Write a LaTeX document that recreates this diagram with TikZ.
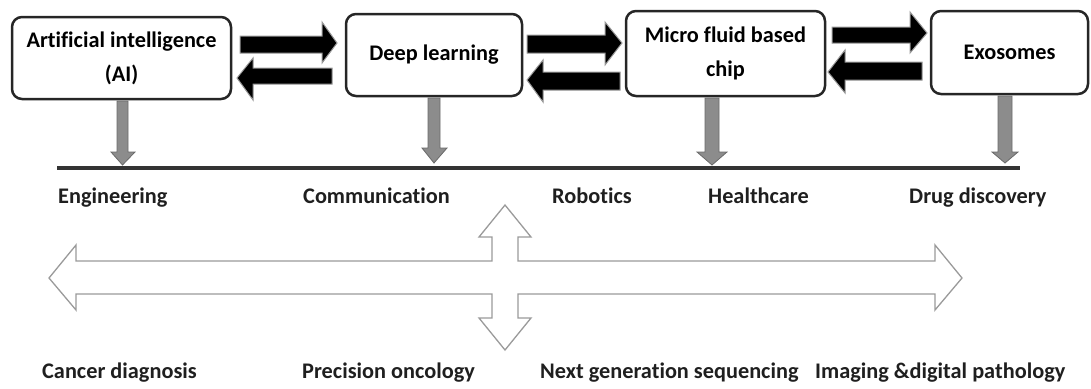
\documentclass[tikz,border=0pt]{standalone}
\usepackage{fontspec}
\setmainfont{Carlito}[Ligatures=NoCommon]
\usetikzlibrary{calc}
\definecolor{boxline}{HTML}{262626}
\definecolor{darrow}{HTML}{8C8C8C}
\definecolor{darrowline}{HTML}{6A6A6A}
\definecolor{outl}{HTML}{9A9A9A}
\tikzset{
  x=1pt, y=-1pt,
  fbox/.style={draw=boxline, line width=2.5pt, rounded corners=10pt, fill=white,
    align=center, inner sep=0pt, font=\fontsize{22.3}{34}\selectfont\bfseries},
  blk/.style={fill=black, draw=gray!80, line width=1pt, line join=miter},
  gdown/.style={fill=darrow, draw=darrowline, line width=0.8pt},
  wout/.style={fill=white, draw=outl, line width=1.3pt},
  lbl/.style={anchor=base west, inner sep=0pt, font=\fontsize{22.3}{26}\selectfont\bfseries, text=black!88},
}
\begin{document}
\begin{tikzpicture}
\useasboundingbox (0,0) rectangle (1091,388);
% boxes
\node[fbox, minimum width=219pt, minimum height=82pt] (ai) at (121.5,58) {Artificial intelligence\\(AI)};
\node[fbox, minimum width=176pt, minimum height=82pt] (dl) at (434,55) {Deep learning};
\node[fbox, minimum width=199pt, minimum height=85pt] (mf) at (725.5,53.5) {Micro fluid based\\chip};
\node[fbox, minimum width=157pt, minimum height=83pt] (ex) at (1009.5,52.5) {Exosomes};
% black block arrows
\draw[blk] (240,36) -- (322,36) -- (322,22) -- (337,43) -- (322,63) -- (322,53) -- (240,53) -- cycle;
\draw[blk] (332,68) -- (253,68) -- (253,58) -- (237,78) -- (253,100) -- (253,84) -- (332,84) -- cycle;
\draw[blk] (527,35) -- (605,35) -- (605,22) -- (622,43) -- (605,65) -- (605,53) -- (527,53) -- cycle;
\draw[blk] (620,72) -- (543,72) -- (543,60) -- (527,80) -- (543,102) -- (543,90) -- (620,90) -- cycle;
\draw[blk] (832,27) -- (910,27) -- (910,12) -- (927,33) -- (910,53) -- (910,43) -- (832,43) -- cycle;
\draw[blk] (922,62) -- (845,62) -- (845,50) -- (828,72) -- (845,93) -- (845,80) -- (922,80) -- cycle;
% gray down arrows
\draw[gdown] (117,101) -- (128,101) -- (128,152) -- (135,152) -- (122.5,165) -- (111,152) -- (117,152) -- cycle;
\draw[gdown] (428,98) -- (440,98) -- (440,148) -- (447,148) -- (434,163) -- (422,148) -- (428,148) -- cycle;
\draw[gdown] (705,98) -- (719,98) -- (719,152) -- (727,152) -- (712,165) -- (697,152) -- (705,152) -- cycle;
\draw[gdown] (998,96) -- (1012,96) -- (1012,152) -- (1018,152) -- (1005,163) -- (992,152) -- (998,152) -- cycle;
% horizontal line
\coordinate (la) at (57,168);
\coordinate (lb) at (1020,168);
\draw[line width=3.5pt, draw=black!80] (la) -- (lb);
% labels row 1
\node[lbl] (eng) at (58,203) {Engineering};
\node[lbl] (com) at (303,203) {Communication};
\node[lbl] (rob) at (552,203) {Robotics};
\node[lbl] (hea) at (708,203) {Healthcare};
\node[lbl] (dru) at (909,203) {Drug discovery};
% big white cross arrow
\draw[wout] (49,278) -- (76,245) -- (76,261) -- (492,261) -- (492,237) -- (479,237) -- (505,205)
  -- (531,237) -- (518,237) -- (518,261) -- (935,261) -- (935,245) -- (962,278) -- (935,310)
  -- (935,294) -- (518,294) -- (518,318) -- (531,318) -- (505,350) -- (479,318) -- (492,318)
  -- (492,294) -- (76,294) -- (76,310) -- cycle;
% labels row 2
\node[lbl] (can) at (42,378) {Cancer diagnosis};
\node[lbl] (pre) at (302,378) {Precision oncology};
\node[lbl] (ngs) at (540,378) {Next generation sequencing};
\node[lbl] (img) at (815,378) {Imaging \&digital pathology};
\end{tikzpicture}
\end{document}
